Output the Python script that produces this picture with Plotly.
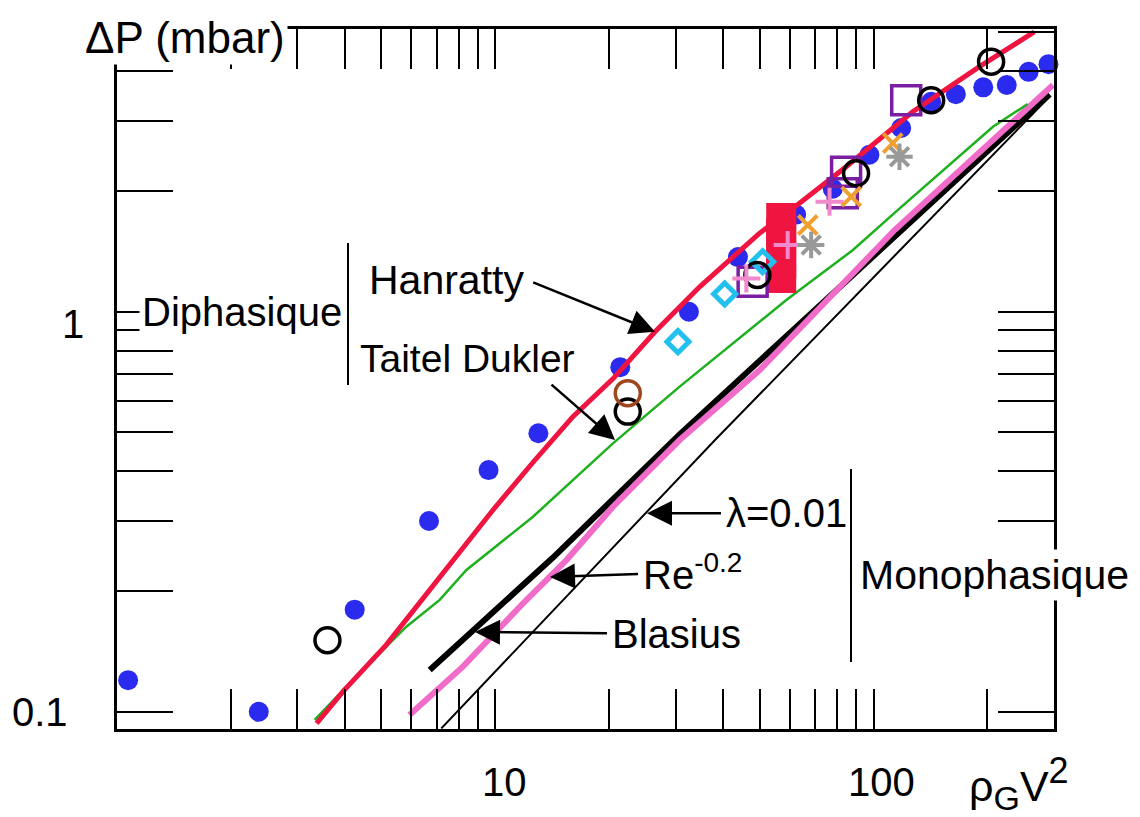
import plotly.graph_objects as go

# ---------------- data ----------------
blue_x = [1.07, 2.37, 4.25, 6.68, 9.60, 13.0, 21.4, 32.5, 43.8, 62.4, 78.0, 97.5, 118.3, 142, 165, 195, 225, 257, 290]
blue_y = [0.120, 0.100, 0.180, 0.300, 0.402, 0.497, 0.727, 1.00, 1.37, 1.75, 2.03, 2.47, 2.88, 3.35, 3.50, 3.64, 3.69, 3.98, 4.16]

blackc_x = [3.60, 22.4, 49.3, 89.9, 142, 204.5]
blackc_y = [0.151, 0.563, 1.236, 2.22, 3.38, 4.22]

brown_x = [22.4]
brown_y = [0.626]

cyan_x = [30.4, 40.4, 50.9]
cyan_y = [0.842, 1.108, 1.334]

purple_x = [47.9, 82.9, 84.6, 122]
purple_y = [1.189, 1.978, 2.24, 3.38]

redsq_x = [57, 57, 57, 57, 57]
redsq_y = [1.215, 1.324, 1.444, 1.574, 1.716]

plus_x = [46.1, 59.3, 76.5]
plus_y = [1.212, 1.469, 1.884]

orange_x = [67.0, 87.3, 112.4]
orange_y = [1.648, 1.94, 2.64]

gray_x = [68.4, 117.1]
gray_y = [1.469, 2.442]

hanratty_x = [3.37, 3.96, 5.15, 6.57, 7.89, 9.86, 12.57, 16.04, 20.46, 26.4, 34.7, 49.9, 63.7, 84.6, 126.9, 190.5, 266]
hanratty_y = [0.0936, 0.1125, 0.1470, 0.1965, 0.246, 0.3195, 0.420, 0.547, 0.680, 0.890, 1.155, 1.571, 1.867, 2.305, 3.164, 4.10, 5.01]

taitel_x = [3.33, 3.96, 4.85, 5.82, 7.13, 8.39, 12.58, 20.47, 30.72, 58.8, 88.2, 115.8, 206.8, 255.5]
taitel_y = [0.0954, 0.1133, 0.1373, 0.1632, 0.1904, 0.2262, 0.3074, 0.469, 0.650, 1.070, 1.427, 1.796, 2.902, 3.307]

re02_x = [5.93, 8.21, 11.84, 15.42, 20.47, 30.72, 50.0, 113.7, 298]
re02_y = [0.0982, 0.1297, 0.1867, 0.2395, 0.3256, 0.478, 0.7154, 1.601, 3.69]

blasius_x = [6.71, 14.21, 30.72, 292]
blasius_y = [0.1272, 0.243, 0.494, 3.50]

lam_x = [7.20, 38.1, 292]
lam_y = [0.0909, 0.478, 3.45]

x_ticks = [2, 3, 4, 5, 6, 7, 8, 9, 10, 20, 30, 40, 50, 60, 70, 80, 90, 100, 200]
y_ticks = [0.1, 0.2, 0.3, 0.4, 0.5, 0.6, 0.7, 0.8, 0.9, 1, 2, 3, 4, 5]

# ---------------- styles ----------------
FONT = "Liberation Sans, Arial, Helvetica, sans-serif"
RED = "#F01440"
BLUE = "#2B2BEF"

fig = go.Figure()

def line(x, y, color, width):
    fig.add_trace(go.Scatter(x=x, y=y, mode="lines", line=dict(color=color, width=width),
                             hoverinfo="skip"))

def marks(x, y, symbol, color, size, lw=0):
    fig.add_trace(go.Scatter(x=x, y=y, mode="markers", cliponaxis=False,
                             marker=dict(symbol=symbol, size=size, color=color,
                                         line=dict(color=color, width=lw))))

line(lam_x, lam_y, "black", 2)
line(blasius_x, blasius_y, "black", 6)
line(re02_x, re02_y, "#F06CC8", 6)
line(taitel_x, taitel_y, "#1FB01F", 2.5)
marks(blue_x, blue_y, "circle", BLUE, 20)
line(hanratty_x, hanratty_y, RED, 5)
marks(redsq_x, redsq_y, "square", RED, 30)
marks(purple_x, purple_y, "square-open", "#7A1FA2", 29, 3.5)
marks(cyan_x, cyan_y, "diamond-open", "#22C0EE", 17, 5)
marks(blackc_x, blackc_y, "circle-open", "black", 25, 3.5)
marks(brown_x, brown_y, "circle-open", "#A0461E", 25, 3.5)
marks(plus_x, plus_y, "cross-thin-open", "#F08ACD", 20, 4)
marks(orange_x, orange_y, "x-thin-open", "#F0A030", 19, 4)
marks(gray_x, gray_y, "asterisk-open", "#999999", 22, 4)

# ---------------- layout ----------------
# the page body adds an 8 px margin, so the figure is offset by (8, 8)
OFF = 8
PL, PR, PT, PB = 117, 1054, 29, 729          # plot area in page pixels
W, H = 1140 - OFF, 817 - OFF
PW, PH = PR - PL, PB - PT

def xp(px):
    return (px - PL) / PW

def yp(py):
    return (PB - py) / PH

axis_common = dict(type="log", showgrid=False, zeroline=False, showline=True,
                   linecolor="black", linewidth=2.5, mirror="ticks", ticks="inside",
                   tickcolor="black", tickwidth=2, showticklabels=False)

fig.update_layout(
    width=W, height=H, autosize=False,
    margin=dict(l=PL - OFF, r=W - (PR - OFF), t=PT - OFF, b=H - (PB - OFF), pad=0),
    paper_bgcolor="white", plot_bgcolor="white",
    showlegend=False,
    font=dict(family=FONT, size=40, color="black"),
    xaxis=dict(axis_common, range=[0, 2.477], tickvals=x_ticks, ticklen=40),
    yaxis=dict(axis_common, range=[-1.043, 0.707], tickvals=y_ticks, ticklen=56),
)

ann = []

def text(t, px, py, xanchor="left", size=40, bg=None):
    d = dict(text=t, x=xp(px), y=yp(py), xref="paper", yref="paper",
             xanchor=xanchor, yanchor="middle", showarrow=False,
             font=dict(family=FONT, size=size, color="black"))
    if bg:
        d.update(bgcolor=bg, borderpad=2)
    ann.append(d)

ARROW = dict(showarrow=True, arrowhead=2, arrowsize=2.0, arrowwidth=2.5,
             arrowcolor="black", standoff=0, startstandoff=0)

def arrow(tipx, tipy, tailx, taily):
    ann.append(dict(text="", x=xp(tipx), y=yp(tipy), xref="paper", yref="paper",
                    ax=tailx - tipx, ay=taily - tipy, **ARROW))

def label_arrow(t, tipx, tipy, cx, cy, size=40):
    # label whose text box is centred at (cx, cy) and whose arrow points to (tipx, tipy)
    ann.append(dict(text=t, x=xp(tipx), y=yp(tipy), xref="paper", yref="paper",
                    ax=cx - tipx, ay=cy - tipy, borderpad=4,
                    font=dict(family=FONT, size=size, color="black"), **ARROW))

# tick labels
text("10", 504, 782, "center", 40)
text("100", 881.6, 782, "center", 40)
text("1", 72.5, 324, "center", 40)
text("0.1", 40, 712, "center", 40)
# axis titles
text("ΔP (mbar)", 82, 37, "left", 44, "white")
text('ρ<sub><span style="font-size:34px">G</span></sub>V'
     '<sup><span style="font-size:36px">2</span></sup>', 967, 783, "left", 43)
# curve labels
text("Diphasique", 139, 312, "left", 40, "white")
text("Hanratty", 367, 280, "left", 41)
text("Taitel Dukler", 358, 358, "left", 39)
text("Monophasique", 857, 575, "left", 41, "white")

label_arrow("λ=0.01", 647, 513.3, 786, 513)
label_arrow("Re<sup>-0.2</sup>", 550, 577, 692, 572)
label_arrow("Blasius", 475, 632, 676, 634)

arrow(655, 331.7, 531.7, 281.7)
arrow(615, 440, 550, 383.3)

fig.update_layout(annotations=ann)

fig.add_shape(type="line", xref="paper", yref="paper", x0=xp(348), x1=xp(348),
              y0=yp(243), y1=yp(385), line=dict(color="black", width=2))
fig.add_shape(type="line", xref="paper", yref="paper", x0=xp(851), x1=xp(851),
              y0=yp(469), y1=yp(662), line=dict(color="black", width=2))

fig.write_html("out.html")
